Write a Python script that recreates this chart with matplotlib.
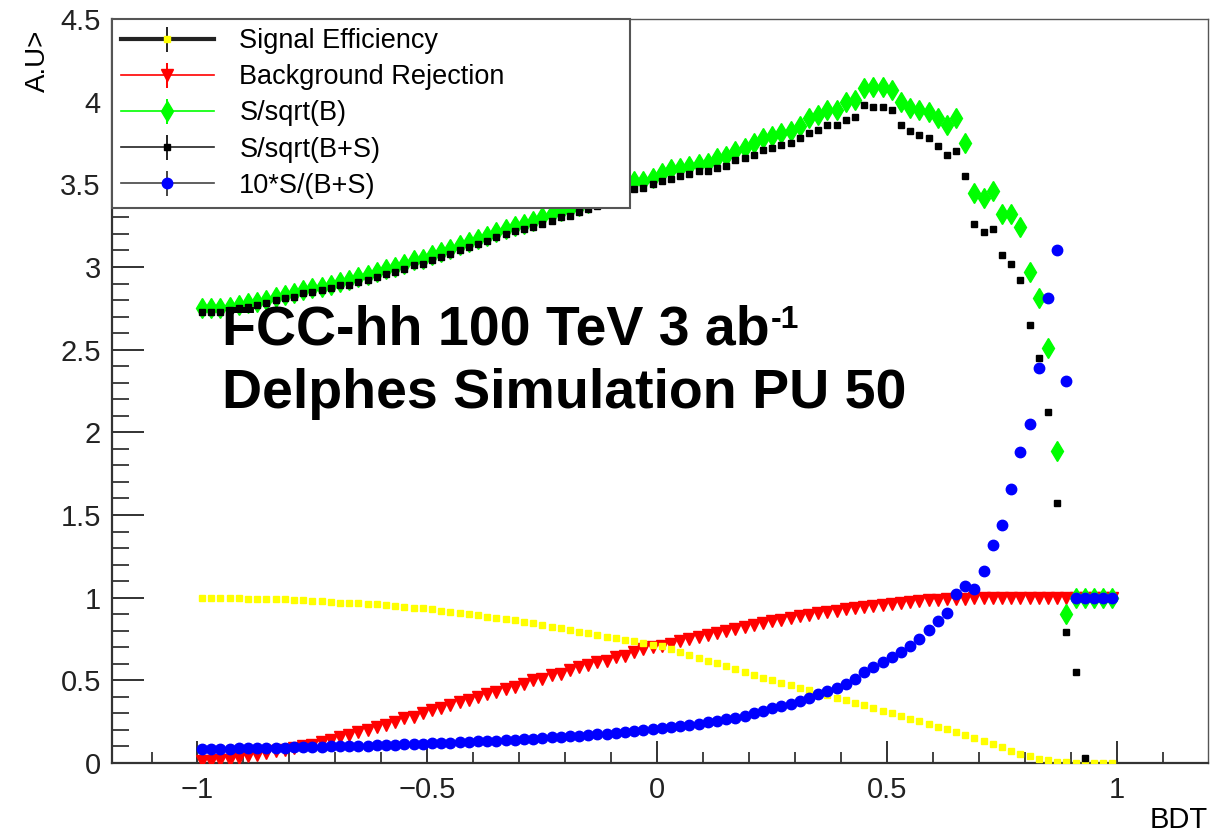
import numpy as np
import matplotlib
matplotlib.use('Agg')
import matplotlib.pyplot as plt
from matplotlib.lines import Line2D
from matplotlib.ticker import MultipleLocator, FuncFormatter

plt.rcParams['font.family'] = ['Liberation Sans', 'DejaVu Sans']

# BDT bin centres (100 bins between -1 and 1)
bdt = np.linspace(-0.99, 0.99, 100)

sig_eff = [
    1.0, 1.0, 1.0, 1.0, 1.0, 0.995, 0.995, 0.99, 0.99, 0.99,
    0.985, 0.985, 0.98, 0.98, 0.975, 0.97, 0.97, 0.965, 0.96, 0.96,
    0.955, 0.95, 0.945, 0.94, 0.935, 0.93, 0.92, 0.915, 0.91, 0.90,
    0.895, 0.885, 0.88, 0.87, 0.865, 0.855, 0.845, 0.835, 0.825, 0.815,
    0.805, 0.795, 0.785, 0.775, 0.765, 0.755, 0.745, 0.735, 0.725, 0.715,
    0.705, 0.69, 0.672, 0.655, 0.638, 0.62, 0.603, 0.585, 0.568, 0.55,
    0.533, 0.517, 0.50, 0.485, 0.47, 0.455, 0.44, 0.425, 0.41, 0.395,
    0.38, 0.364, 0.348, 0.332, 0.316, 0.30, 0.284, 0.268, 0.252, 0.236,
    0.22, 0.203, 0.186, 0.168, 0.15, 0.132, 0.113, 0.094, 0.075, 0.057,
    0.04, 0.027, 0.016, 0.008, 0.004, 0.002, 0.0, 0.0, 0.0, 0.0,
]

bkg_rej = [
    0.01, 0.01, 0.02, 0.02, 0.03, 0.04, 0.05, 0.06, 0.07, 0.08,
    0.09, 0.10, 0.11, 0.13, 0.14, 0.16, 0.17, 0.19, 0.20, 0.22,
    0.23, 0.25, 0.27, 0.28, 0.30, 0.32, 0.33, 0.35, 0.37, 0.38,
    0.40, 0.42, 0.43, 0.45, 0.46, 0.48, 0.50, 0.51, 0.53, 0.54,
    0.56, 0.58, 0.59, 0.61, 0.62, 0.64, 0.65, 0.67, 0.69, 0.70,
    0.705, 0.72, 0.735, 0.75, 0.763, 0.776, 0.788, 0.80, 0.813, 0.825,
    0.836, 0.846, 0.857, 0.867, 0.877, 0.887, 0.896, 0.905, 0.913, 0.921,
    0.93, 0.937, 0.944, 0.951, 0.957, 0.963, 0.968, 0.974, 0.979, 0.984,
    0.988, 0.991, 0.993, 0.995, 0.997, 0.998, 0.999, 0.999, 1.0, 1.0,
    1.0, 1.0, 1.0, 1.0, 1.0, 1.0, 1.0, 1.0, 1.0, 1.0,
]

s_sqrt_b = [
    2.75, 2.75, 2.75, 2.76, 2.77, 2.78, 2.79, 2.80, 2.82, 2.83,
    2.84, 2.86, 2.87, 2.88, 2.89, 2.91, 2.92, 2.94, 2.95, 2.97,
    2.99, 3.00, 3.02, 3.04, 3.05, 3.07, 3.09, 3.11, 3.13, 3.15,
    3.17, 3.19, 3.21, 3.23, 3.25, 3.26, 3.28, 3.30, 3.32, 3.34,
    3.35, 3.37, 3.39, 3.41, 3.44, 3.47, 3.50, 3.52, 3.52, 3.54,
    3.57, 3.59, 3.60, 3.61, 3.62, 3.63, 3.66, 3.67, 3.70, 3.72,
    3.75, 3.78, 3.79, 3.81, 3.82, 3.85, 3.90, 3.92, 3.95, 3.95,
    4.00, 4.01, 4.08, 4.09, 4.09, 4.07, 4.00, 3.96, 3.95, 3.94,
    3.90, 3.86, 3.90, 3.75, 3.45, 3.42, 3.46, 3.32, 3.32, 3.24,
    2.97, 2.81, 2.51, 1.89, 0.90, 1.00, 1.00, 1.00, 1.00, 1.00,
]

# last three bins are empty (not drawn)
s_sqrt_bs = [
    2.73, 2.73, 2.73, 2.74, 2.75, 2.76, 2.77, 2.78, 2.80, 2.81,
    2.82, 2.84, 2.85, 2.86, 2.87, 2.89, 2.89, 2.91, 2.92, 2.94,
    2.96, 2.97, 2.99, 3.01, 3.02, 3.04, 3.06, 3.08, 3.10, 3.12,
    3.14, 3.16, 3.18, 3.20, 3.22, 3.23, 3.24, 3.26, 3.28, 3.30,
    3.31, 3.33, 3.35, 3.37, 3.40, 3.43, 3.45, 3.47, 3.48, 3.50,
    3.52, 3.53, 3.55, 3.56, 3.58, 3.58, 3.60, 3.61, 3.65, 3.66,
    3.68, 3.71, 3.72, 3.74, 3.75, 3.78, 3.81, 3.83, 3.86, 3.86,
    3.89, 3.91, 3.98, 3.97, 3.97, 3.95, 3.86, 3.82, 3.80, 3.78,
    3.73, 3.68, 3.70, 3.55, 3.26, 3.21, 3.23, 3.07, 3.02, 2.92,
    2.65, 2.45, 2.12, 1.57, 0.79, 0.55, 0.03, np.nan, np.nan, np.nan,
]

s_over_bs10 = [
    0.085, 0.085, 0.086, 0.087, 0.088, 0.089, 0.09, 0.091, 0.092, 0.093,
    0.094, 0.095, 0.097, 0.098, 0.10, 0.101, 0.103, 0.104, 0.106, 0.107,
    0.109, 0.111, 0.113, 0.115, 0.117, 0.119, 0.121, 0.123, 0.126, 0.128,
    0.131, 0.133, 0.136, 0.139, 0.142, 0.145, 0.148, 0.151, 0.155, 0.158,
    0.162, 0.166, 0.17, 0.174, 0.178, 0.183, 0.188, 0.193, 0.198, 0.204,
    0.21, 0.217, 0.224, 0.231, 0.238, 0.246, 0.255, 0.264, 0.274, 0.285,
    0.30, 0.315, 0.33, 0.345, 0.36, 0.375, 0.395, 0.415, 0.435, 0.455,
    0.475, 0.51, 0.55, 0.58, 0.61, 0.64, 0.67, 0.705, 0.75, 0.806,
    0.86, 0.91, 1.02, 1.07, 1.05, 1.16, 1.32, 1.44, 1.66, 1.88,
    2.05, 2.39, 2.81, 3.10, 2.31, 1.0, 1.0, 1.0, 1.0, 1.0,
]

labels = ['Signal Efficiency', 'Background Rejection', 'S/sqrt(B)',
          'S/sqrt(B+S)', '10*S/(B+S)']

fig = plt.figure(figsize=(12.21, 8.32), dpi=100)
ax = fig.add_axes([0.0917, 0.0829, 0.8977, 0.8943])

# ROOT style "P" draw: markers only
ax.plot(bdt, bkg_rej, ls='none', marker='v', ms=9, color='#ff0000', mec='#ff0000', zorder=3)
ax.plot(bdt, sig_eff, ls='none', marker='s', ms=5, color='#ffff00', mec='#ffff00', zorder=4)
ax.plot(bdt, s_sqrt_b, ls='none', marker='d', ms=10, color='#00ff00', mec='#00ff00', zorder=5)
ax.plot(bdt, s_sqrt_bs, ls='none', marker='s', ms=3.8, color='black', zorder=6)
ax.plot(bdt, s_over_bs10, ls='none', marker='o', ms=7.5, color='#0000ff', mec='#0000ff', zorder=7)

ax.set_xlim(-1.186, 1.198)
ax.set_ylim(0, 4.5)

# ticks like ROOT: inward, bottom and left only
ax.xaxis.set_major_locator(MultipleLocator(0.5))
ax.xaxis.set_minor_locator(MultipleLocator(0.1))
ax.yaxis.set_major_locator(MultipleLocator(0.5))
ax.yaxis.set_minor_locator(MultipleLocator(0.1))
fmt = FuncFormatter(lambda v, p: ('%g' % round(v, 3)).replace('-', '\u2212'))
ax.xaxis.set_major_formatter(fmt)
ax.yaxis.set_major_formatter(fmt)
ax.tick_params(axis='x', which='major', direction='in', length=16, width=1.3, labelsize=21, pad=9, colors='#222')
ax.tick_params(axis='x', which='minor', direction='in', length=8, width=1.2, colors='#222')
ax.tick_params(axis='y', which='major', direction='in', length=23, width=1.3, labelsize=21, pad=8, colors='#222')
ax.tick_params(axis='y', which='minor', direction='in', length=12, width=1.2, colors='#222')
for side in ['left', 'bottom']:
    ax.spines[side].set_linewidth(1.6)
    ax.spines[side].set_color('#333')
for side in ['top', 'right']:
    ax.spines[side].set_linewidth(1.0)
    ax.spines[side].set_color('#555')

ax.set_xlabel('BDT', loc='right', fontsize=21, labelpad=2)
fig.text(38 / 1221, 1 - 92 / 832, 'A.U>', rotation=90, fontsize=20, ha='center', va='bottom')

# legend with errorbar-like entries
styles = [
    ('#222222', 3.0, '#222222', 's', '#ffff00', 5),
    ('#ff0000', 1.2, '#ff0000', 'v', '#ff0000', 9),
    ('#00ff00', 1.2, '#00ff00', 'd', '#00ff00', 10),
    ('#222222', 1.2, '#222222', 's', '#000000', 3.8),
    ('#444444', 1.2, '#444444', 'o', '#0000ff', 7.5),
]
handles = []
for lc, lw, bc, mk, mc, ms in styles:
    hl = Line2D([], [], color=lc, lw=lw)
    hv = Line2D([], [], ls='none', marker='|', ms=18, mew=1.4, color=bc)
    hm = Line2D([], [], ls='none', marker=mk, ms=ms, color=mc, mec=mc)
    handles.append((hl, hv, hm))

leg = ax.legend(handles, labels, loc='upper left', bbox_to_anchor=(0, 0.75, 0.473, 0.25),
                mode='expand', borderaxespad=0, fontsize=19.5, handlelength=3.4,
                handletextpad=0.95, labelspacing=0.37, borderpad=0.35,
                fancybox=False, framealpha=1, edgecolor='#555')
leg.get_frame().set_linewidth(1.5)
leg.set_zorder(10)

line1 = ax.text(-0.946, 2.53, 'FCC-hh 100 TeV 3 ab', fontsize=40, fontweight='bold',
                va='baseline', zorder=9)
ax.annotate('-1', xy=(1, 1), xycoords=line1, xytext=(0.5, 0), textcoords='offset points',
            fontsize=23, fontweight='bold', va='top', ha='left', zorder=9)
ax.text(-0.946, 2.15, 'Delphes Simulation PU 50', fontsize=40, fontweight='bold',
        va='baseline', zorder=9)

fig.savefig('out.png', dpi=100)
